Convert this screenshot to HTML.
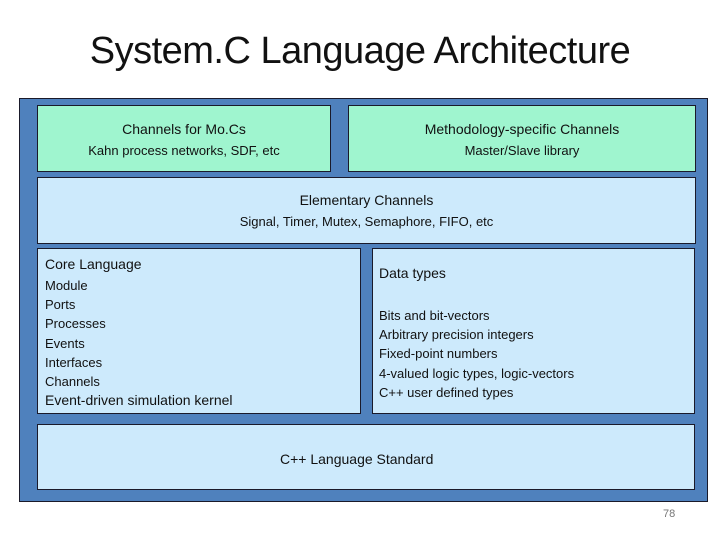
<!DOCTYPE html>
<html><head><style>
body{margin:0;width:720px;height:540px;background:#fff;position:relative;font-family:"Liberation Sans",sans-serif;overflow:hidden}
.b{position:absolute;box-sizing:border-box;border:1.5px solid #1a1a2a}
.t{position:absolute;white-space:nowrap;color:#111}
.c{text-align:center;left:0;right:0}
</style></head><body>
<div class="t" style="left:0;width:720px;text-align:center;top:30px;font-size:38px;letter-spacing:-0.5px">System.C Language Architecture</div>
<div class="b" style="left:19px;top:98px;width:689px;height:404px;background:#4f81bd"></div>
<div class="b" style="left:37px;top:105px;width:294px;height:67px;background:#9ff5cf">
 <div class="t c" style="top:15px;font-size:14px">Channels for Mo.Cs</div>
 <div class="t c" style="top:37px;font-size:13px">Kahn process networks, SDF, etc</div></div>
<div class="b" style="left:348px;top:105px;width:348px;height:67px;background:#9ff5cf">
 <div class="t c" style="top:15px;font-size:14px">Methodology-specific Channels</div>
 <div class="t c" style="top:37px;font-size:13px">Master/Slave library</div></div>
<div class="b" style="left:37px;top:177px;width:659px;height:67px;background:#cdeafc">
 <div class="t c" style="top:14px;font-size:14px">Elementary Channels</div>
 <div class="t c" style="top:36px;font-size:13px">Signal, Timer, Mutex, Semaphore, FIFO, etc</div></div>
<div class="b" style="left:37px;top:248px;width:324px;height:166px;background:#cdeafc">
 <div class="t" style="left:7px;top:7px;font-size:14px">Core Language</div>
 <div class="t" style="left:7px;top:27px;font-size:13px;line-height:19.2px">Module<br>Ports<br>Processes<br>Events<br>Interfaces<br>Channels</div>
 <div class="t" style="left:7px;top:143px;font-size:14px">Event-driven simulation kernel</div></div>
<div class="b" style="left:372px;top:248px;width:323px;height:166px;background:#cdeafc">
 <div class="t" style="left:6px;top:16px;font-size:14px">Data types</div>
 <div class="t" style="left:6px;top:57px;font-size:13px;line-height:19.2px">Bits and bit-vectors<br>Arbitrary precision integers<br>Fixed-point numbers<br>4-valued logic types, logic-vectors<br>C++ user defined types</div></div>
<div class="b" style="left:37px;top:424px;width:658px;height:66px;background:#cdeafc">
 <div class="t" style="left:242px;top:26px;font-size:14px">C++ Language Standard</div></div>
<div class="t" style="left:663px;top:508px;font-size:11px;color:#777">78</div>
</body></html>
